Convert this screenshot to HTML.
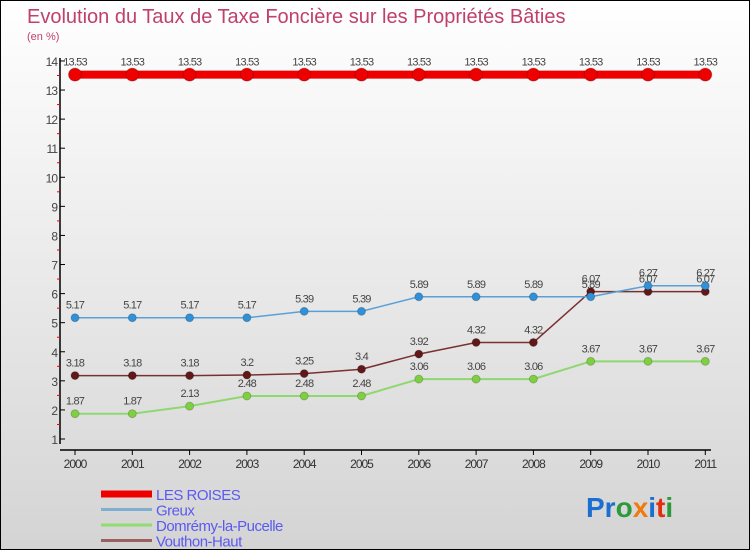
<!DOCTYPE html>
<html><head><meta charset="utf-8"><style>
body{margin:0}
#c{width:748px;height:548px;border:1px solid #000;background:linear-gradient(#ffffff,#d4d4d4);position:relative;overflow:hidden;font-family:"Liberation Sans",sans-serif}
svg text{font-family:"Liberation Sans",sans-serif}
</style></head><body>
<div id="c">
<svg id="s" width="748" height="548">
<text x="26" y="22" font-size="20" fill="#c0406a">Evolution du Taux de Taxe Foncière sur les Propriétés Bâties</text>
<text x="26" y="39" font-size="11" fill="#c0406a">(en %)</text>
<g id="g"></g>
<g id="lg"></g>
<text x="585" y="516" font-size="28" font-weight="bold"><tspan fill="#1a6fd0">Pr</tspan><tspan fill="#2a9a3a">o</tspan><tspan fill="#f07a10">x</tspan><tspan fill="#1a6fd0">i</tspan><tspan fill="#e03010">t</tspan><tspan fill="#2a9a3a">i</tspan></text>
</svg></div>
<script>
const years=[2000,2001,2002,2003,2004,2005,2006,2007,2008,2009,2010,2011];
const roises=[13.53,13.53,13.53,13.53,13.53,13.53,13.53,13.53,13.53,13.53,13.53,13.53];
const greux=[5.17,5.17,5.17,5.17,5.39,5.39,5.89,5.89,5.89,5.89,6.27,6.27];
const domremy=[1.87,1.87,2.13,2.48,2.48,2.48,3.06,3.06,3.06,3.67,3.67,3.67];
const vouthon=[3.18,3.18,3.18,3.2,3.25,3.4,3.92,4.32,4.32,6.07,6.07,6.07];
const yTicks=[1,2,3,4,5,6,7,8,9,10,11,12,13,14];
const names=["LES ROISES","Greux","Domrémy-la-Pucelle","Vouthon-Haut"];
const NS="http://www.w3.org/2000/svg",g=document.getElementById('g');
const X=i=>74+i*57.3, Y=v=>438-(v-1)*29.08;
function mk(t,a,p){const e=document.createElementNS(NS,t);for(const k in a)e.setAttribute(k,a[k]);(p||g).appendChild(e);return e;}
let ax=mk('line',{x1:59,y1:57,x2:59,y2:443,stroke:'#000','stroke-width':1.5});


let xa=mk('line',{x1:59,y1:449,x2:710,y2:449,stroke:'#000','stroke-width':1.5});


yTicks.forEach(v=>{mk('line',{x1:59,y1:Y(v),x2:64,y2:Y(v),stroke:'#000'});
 if(v<14)mk('line',{x1:56,y1:Y(v+0.5),x2:59,y2:Y(v+0.5),stroke:'#e00'});
 let t=mk('text',{x:56,y:Y(v)+5,'font-size':12,fill:'#444','text-anchor':'end','letter-spacing':'-1'});t.textContent=v;
 
 });
years.forEach((y,i)=>{mk('line',{x1:X(i),y1:449,x2:X(i),y2:454,stroke:'#000'});
 let t=mk('text',{x:X(i),y:467,'font-size':12,fill:'#333','text-anchor':'middle','letter-spacing':'-1'});t.textContent=y;
 
 });
function series(d,col,fill,w,r,nm){
 let p=mk('polyline',{points:d.map((v,i)=>X(i)+','+Y(v)).join(' '),fill:'none',stroke:col,'stroke-width':w});
 
 
 d.forEach((v,i)=>{let c=mk('circle',{cx:X(i),cy:Y(v),r:r,fill:fill,stroke:'#0003'});
  
  
  let t=mk('text',{x:X(i),y:Y(v)-9,'font-size':11,fill:'#444','text-anchor':'middle','letter-spacing':'-0.8'});t.textContent=v;
  
  });
}
series(domremy,'#8fd870','#7ed040',2,4,'domremy');
series(vouthon,'#7a3030','#601818',1.5,4,'vouthon');
series(greux,'#5aa0d8','#3090d8',1.5,4,'greux');
series(roises,'#ee0000','#ee0000',8,6.5,'les-roises');
const lg=document.getElementById('lg');
const lc=['#ee0000','#80aed0','#90dc70','#9a6060'],lw=[7,3,3,3];
names.forEach((n,i)=>{const y=493+i*15.5;
 let l=mk('line',{x1:100,y1:y,x2:151,y2:y,stroke:lc[i],'stroke-width':lw[i]},lg);
 
 
 let t=mk('text',{x:155,y:y+6,'font-size':15,fill:'#5a5af0','letter-spacing':'-0.5'},lg);t.textContent=n;
 
 });
</script></body></html>
